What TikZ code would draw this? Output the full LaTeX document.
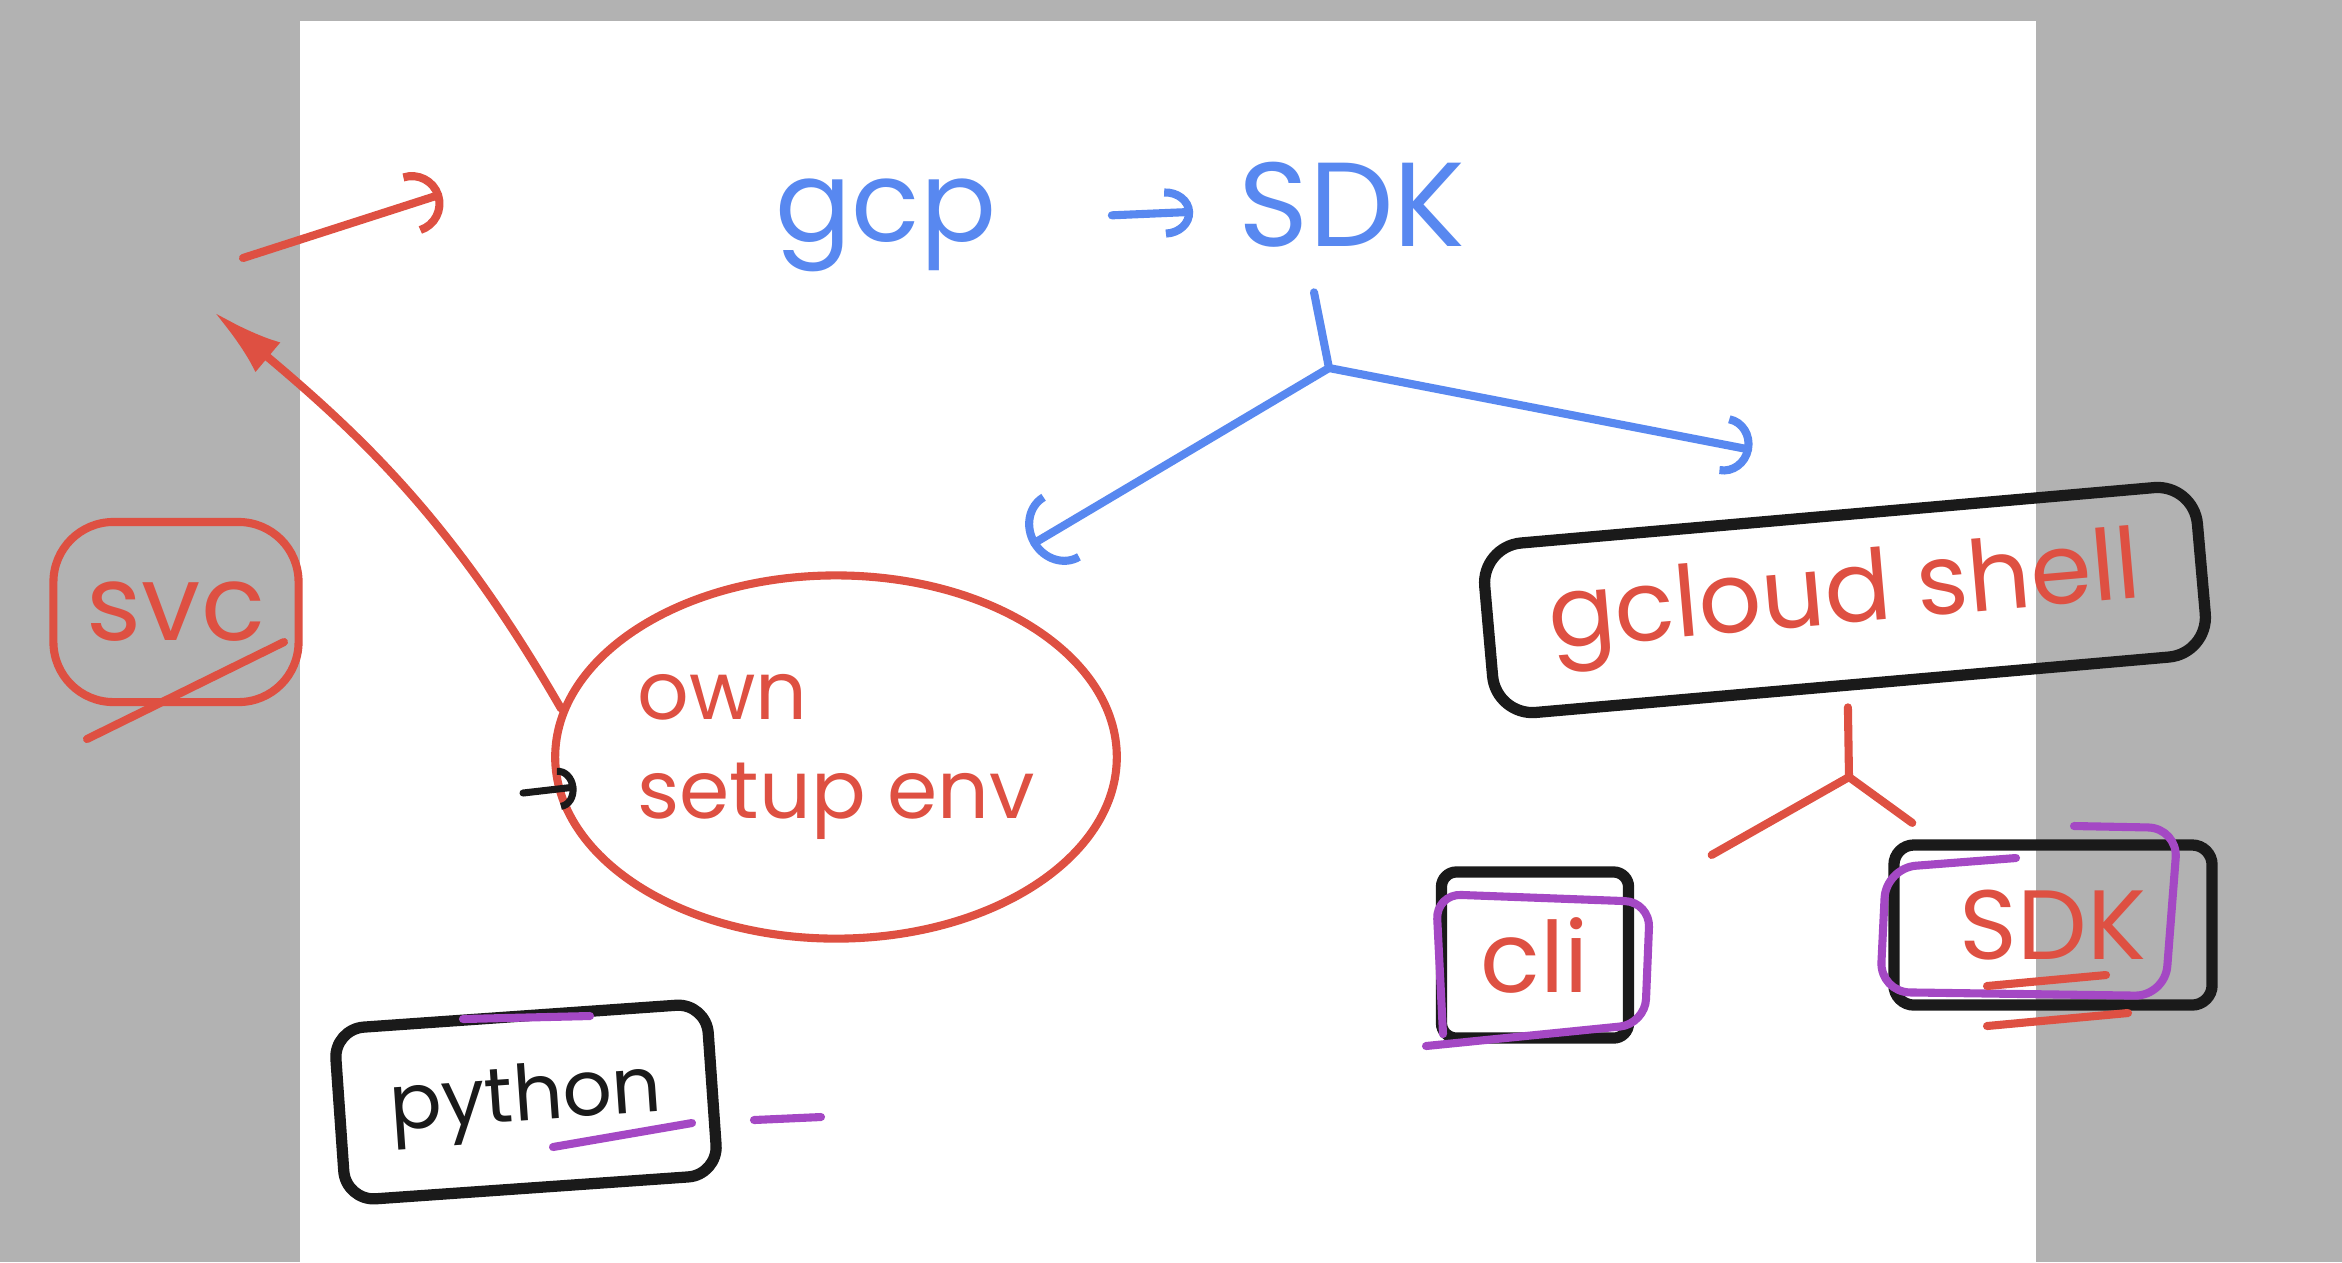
\documentclass[tikz,border=0pt]{standalone}
\usepackage{fontspec}
\setmainfont{Poppins}
\usetikzlibrary{arrows.meta, shapes.geometric}

\definecolor{inkred}{RGB}{222,80,66}
\definecolor{inkblue}{RGB}{88,136,240}
\definecolor{inkpurple}{RGB}{164,72,196}
\definecolor{inkblack}{RGB}{26,26,26}
\definecolor{margin}{RGB}{178,178,178}

\begin{document}
\begin{tikzpicture}[x=0.01cm, y=-0.01cm,
    pen/.style={line width=2.3pt, line cap=round, line join=round},
    redpen/.style={pen, inkred},
    bluepen/.style={pen, inkblue},
    purplepen/.style={pen, inkpurple},
    barb/.style 2 args={-{Arc Barb[length=#1, width=#2]}},
    word/.style={inner sep=0pt, font=\fontsize{#1}{#1}\selectfont},
    box/.style={draw=inkblack, line width=3.2pt, rounded corners=#1}]

    % page
    \fill[margin] (0,0) rectangle (2342,1262);
    \fill[white] (300,21) rectangle (2036,1262);
    \useasboundingbox (0,0) rectangle (2342,1262);

    % gcp -> SDK
    \node[word=32, inkblue] (gcp) at (886,225) {gcp};
    \node[word=34, inkblue] (sdk) at (1352,205) {SDK};
    \draw[bluepen, barb={8pt}{14pt}, shorten <=1.15cm, shorten >=0.45cm] (gcp) -- (sdk);

    % own setup env
    \node[ellipse, draw=inkred, line width=2.3pt, minimum width=5.53cm, minimum height=3.63cm,
          inner sep=0pt, text=inkred, align=left, font=\fontsize{23}{28}\selectfont] (own) at (836,757) {own\\setup env};

    % gcloud shell
    \node[box=0.4cm, rotate=5, minimum width=7.15cm, minimum height=1.7cm,
          text=inkred, font=\fontsize{28}{32}\selectfont] (gshell) at (1845,600) {gcloud shell};

    % SDK splits
    \coordinate (bsplit) at (1329,368);
    \coordinate (bleft) at (1031,545);
    \coordinate (bright) at (1752,450);
    \draw[bluepen] (sdk.south) ++(-38,44) -- (bsplit);
    \draw[bluepen, barb={10pt}{22pt}] (bsplit) -- (bleft);
    \draw[bluepen, barb={8pt}{17pt}] (bsplit) -- (bright);

    % cli and SDK
    \node[box=0.15cm, minimum width=1.87cm, minimum height=1.66cm,
          text=inkred, font=\fontsize{28}{32}\selectfont] (cli) at (1535,955) {cli};
    \node[box=0.2cm, minimum width=3.18cm, minimum height=1.6cm,
          text=inkred, font=\fontsize{28}{32}\selectfont] (sdkbox) at (2053,925) {SDK};
    \coordinate (rsplit) at (1849,777);
    \draw[redpen] (gshell.south) ++(-5,17) -- (rsplit);
    \draw[redpen, shorten >=0.89cm] (rsplit) -- (cli);
    \draw[redpen, shorten >=0.28cm] (rsplit) -- (sdkbox);

    % highlights
    \draw[purplepen, rounded corners=0.25cm] (1426,1046) -- (1645,1024) -- (1650,902) -- (1436,894) -- (1443,1034);
    \draw[purplepen, rounded corners=0.3cm] (2016,858) -- (1886,868) -- (1880,992) -- (2165,996) -- (2178,828) -- (2074,826);
    \draw[redpen] (1987,986) -- (2106,975);
    \draw[redpen] (1987,1026) -- (2128,1013);

    % svc
    \node[draw=inkred, line width=2.3pt, rounded corners=0.6cm, minimum width=2.45cm, minimum height=1.8cm,
          text=inkred, font=\fontsize{30}{34}\selectfont] (svc) at (176,612) {svc};
    \draw[redpen] (87,739) -- (284,642);

    % arrows on the left
    \coordinate (svctip) at (214,312);
    \draw[redpen, -{Latex[length=20pt, width=11pt]}] (own.170) to[out=120, in=-40] (svctip);
    \coordinate (r1) at (243,258);
    \coordinate (r2) at (442,194);
    \draw[redpen, barb={9pt}{18pt}] (r1) -- (r2);
    \coordinate (stub) at (523,793);
    \draw[pen, inkblack, line width=2pt, barb={5pt}{12pt}, shorten >=-6pt] (stub) -- (own);

    % python
    \node[box=0.3cm, rotate=4, minimum width=3.73cm, minimum height=1.72cm,
          text=inkblack, font=\fontsize{22}{26}\selectfont] (python) at (526,1102) {python};
    \draw[purplepen] (463,1019) -- (590,1016);
    \draw[purplepen] (553,1147) -- (692,1123);
    \draw[purplepen] (754,1120) -- (821,1117);
\end{tikzpicture}
\end{document}
